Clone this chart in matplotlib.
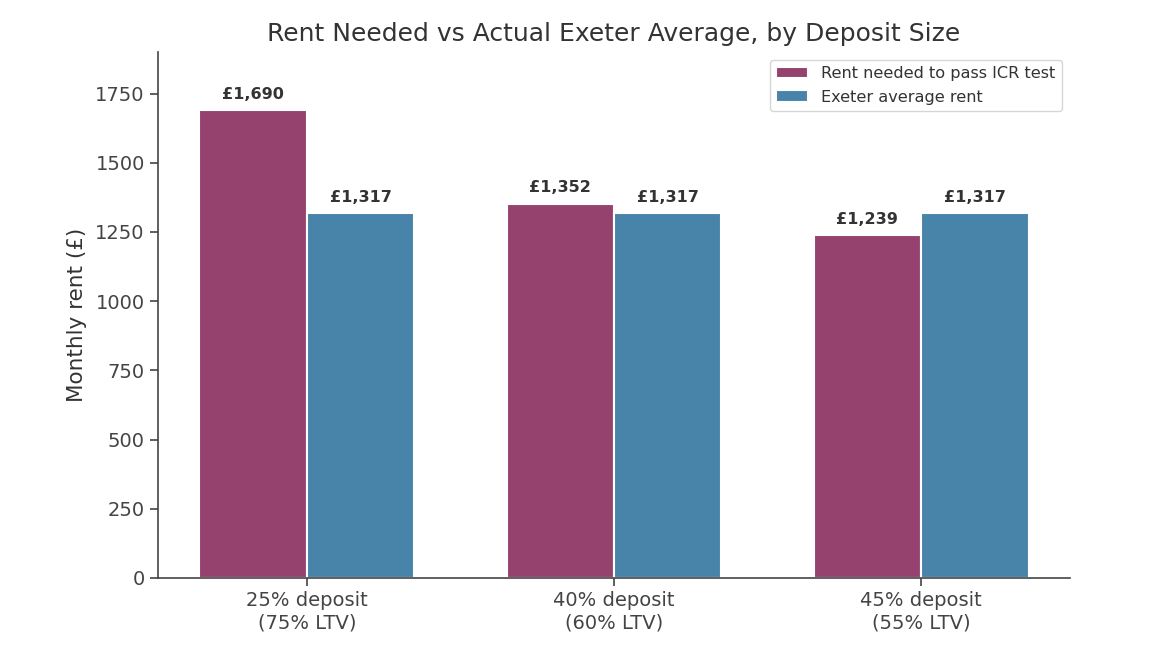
import matplotlib.pyplot as plt
import numpy as np

# data
categories = ['25% deposit\n(75% LTV)', '40% deposit\n(60% LTV)', '45% deposit\n(55% LTV)']
rent_needed = [1690, 1352, 1239]
exeter_avg = [1317, 1317, 1317]

purple = '#96426E'
blue = '#4884A9'
text_col = '#333333'

fig, ax = plt.subplots(figsize=(11.66, 6.58), dpi=100)
fig.subplots_adjust(left=0.1355, right=0.9177, bottom=0.1216, top=0.921)

x = np.arange(len(categories))
w = 0.35
b1 = ax.bar(x - w / 2, rent_needed, w, color=purple, edgecolor='white', linewidth=1.5,
            label='Rent needed to pass ICR test')
b2 = ax.bar(x + w / 2, exeter_avg, w, color=blue, edgecolor='white', linewidth=1.5,
            label='Exeter average rent')

# value labels on top of bars
for bars in (b1, b2):
    for rect in bars:
        h = rect.get_height()
        ax.annotate(f'£{h:,.0f}', (rect.get_x() + rect.get_width() / 2, h),
                    xytext=(0, 6), textcoords='offset points', ha='center', va='bottom',
                    fontsize=11.5, fontweight='bold', color=text_col)

ax.set_ylim(0, 1900)
ax.set_xticks(x)
ax.set_xticklabels(categories, fontsize=14, color=text_col)
ax.tick_params(axis='y', labelsize=14, labelcolor=text_col)
ax.tick_params(colors='#444444', length=6, width=1.2)
ax.set_ylabel('Monthly rent (£)', fontsize=15.5, color=text_col, labelpad=6)
ax.set_title('Rent Needed vs Actual Exeter Average, by Deposit Size', fontsize=18,
             color=text_col, pad=8)

for s in ['top', 'right']:
    ax.spines[s].set_visible(False)
for s in ['left', 'bottom']:
    ax.spines[s].set_color('#444444')
    ax.spines[s].set_linewidth(1.2)

leg = ax.legend(fontsize=11.6, loc='upper right', frameon=True)
for t in leg.get_texts():
    t.set_color(text_col)

fig.savefig('out.png', dpi=100)
